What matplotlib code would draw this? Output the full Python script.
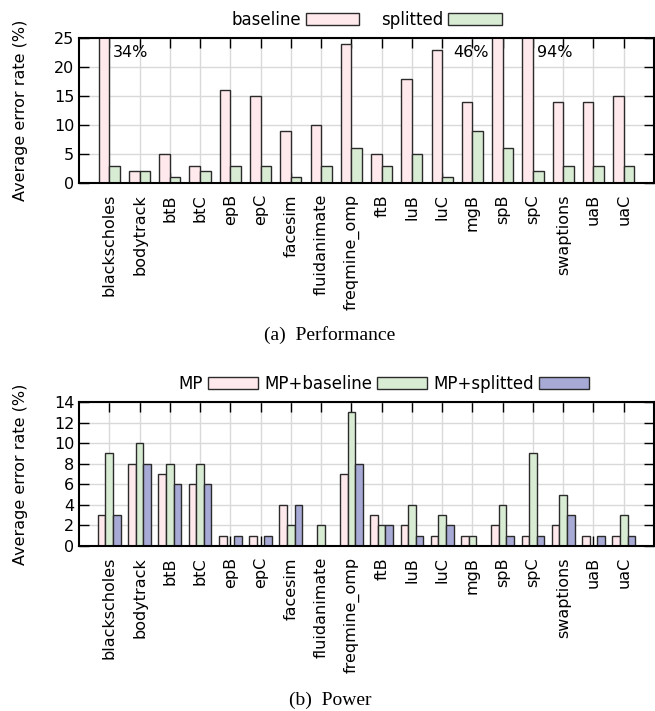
import numpy as np
import matplotlib
matplotlib.use("Agg")
import matplotlib.pyplot as plt

# Data
benchmarks = ["blackscholes", "bodytrack", "btB", "btC", "epB", "epC", "facesim",
              "fluidanimate", "freqmine_omp", "ftB", "luB", "luC", "mgB", "spB",
              "spC", "swaptions", "uaB", "uaC"]

# (a) performance
perf_baseline = [34, 2, 5, 3, 16, 15, 9, 10, 24, 5, 18, 23, 14, 46, 94, 14, 14, 15]
perf_splitted = [3, 2, 1, 2, 3, 3, 1, 3, 6, 3, 5, 1, 9, 6, 2, 3, 3, 3]
perf_ymax = 25

# (b) power
pow_mp = [3, 8, 7, 6, 1, 1, 4, 0, 7, 3, 2, 1, 1, 2, 1, 2, 1, 1]
pow_mp_baseline = [9, 10, 8, 8, 0, 0, 2, 2, 13, 2, 4, 3, 1, 4, 9, 5, 0, 3]
pow_mp_splitted = [3, 8, 6, 6, 1, 1, 4, 0, 8, 2, 1, 2, 0, 1, 1, 3, 1, 1]
pow_ymax = 14

PINK = "#ffe9ec"
GREEN = "#d8ecd4"
BLUE = "#a8aad6"
EDGE = "#2b2b2b"

plt.rcParams['font.family'] = ['DejaVu Sans']
plt.rcParams['font.size'] = 11.5

fig = plt.figure(figsize=(6.55, 7.11), dpi=100)
ax1 = fig.add_axes([79/655, 1 - 183/711, 575/655, 145/711])
ax2 = fig.add_axes([79/655, 1 - 546/711, 575/655, 144/711])

x = np.arange(len(benchmarks))


def style_axes(ax, ymax, step):
    ax.set_xlim(-1, len(benchmarks))
    ax.set_ylim(0, ymax)
    ax.set_yticks(np.arange(0, ymax + 1, step))
    ax.set_xticks(x)
    ax.set_xticklabels(benchmarks, rotation=90)
    ax.grid(True, color="#d9d9d9", linewidth=1)
    ax.set_axisbelow(True)
    ax.tick_params(direction='in', top=True, right=True, length=7, width=1)
    ax.tick_params(axis='x', pad=8)
    for s in ax.spines.values():
        s.set_linewidth(1.5)
    ax.set_ylabel("Average error rate (%)")
    ax.yaxis.set_label_coords(-0.088, 0.5)


# (a) Performance
w = 0.35
ax1.bar(x - w/2, perf_baseline, w, color=PINK, edgecolor=EDGE, linewidth=1, label="baseline")
ax1.bar(x + w/2, perf_splitted, w, color=GREEN, edgecolor=EDGE, linewidth=1, label="splitted")
style_axes(ax1, perf_ymax, 5)

# values of the clipped bars
for i, v in enumerate(perf_baseline):
    if v > perf_ymax:
        if benchmarks[i] == "spB":
            ax1.text(i - w - 0.12, 22.5, f"{v}%", ha='right', va='center')
        else:
            ax1.text(i + 0.12, 22.5, f"{v}%", ha='left', va='center')

ax1.legend(loc='lower center', bbox_to_anchor=(0.5, 1.0), ncol=2, frameon=False,
           markerfirst=False, handlelength=3.2, handleheight=0.8, handletextpad=0.3,
           columnspacing=1.3, borderaxespad=0.15, fontsize=12)

# (b) Power
w2 = 0.25
ax2.bar(x - w2, pow_mp, w2, color=PINK, edgecolor=EDGE, linewidth=1, label="MP")
ax2.bar(x, pow_mp_baseline, w2, color=GREEN, edgecolor=EDGE, linewidth=1, label="MP+baseline")
ax2.bar(x + w2, pow_mp_splitted, w2, color=BLUE, edgecolor=EDGE, linewidth=1, label="MP+splitted")
style_axes(ax2, pow_ymax, 2)

ax2.legend(loc='lower center', bbox_to_anchor=(0.53, 1.0), ncol=3, frameon=False,
           markerfirst=False, handlelength=3.0, handleheight=0.8, handletextpad=0.3,
           columnspacing=0.4, borderaxespad=0.15, fontsize=12)

# captions
fig.text(330/655, 1 - 335/711, "(a)  Performance", ha='center', va='center',
         family='Liberation Serif', fontsize=14)
fig.text(330/655, 1 - 700/711, "(b)  Power", ha='center', va='center',
         family='Liberation Serif', fontsize=14)

fig.savefig("out.png", dpi=100)
